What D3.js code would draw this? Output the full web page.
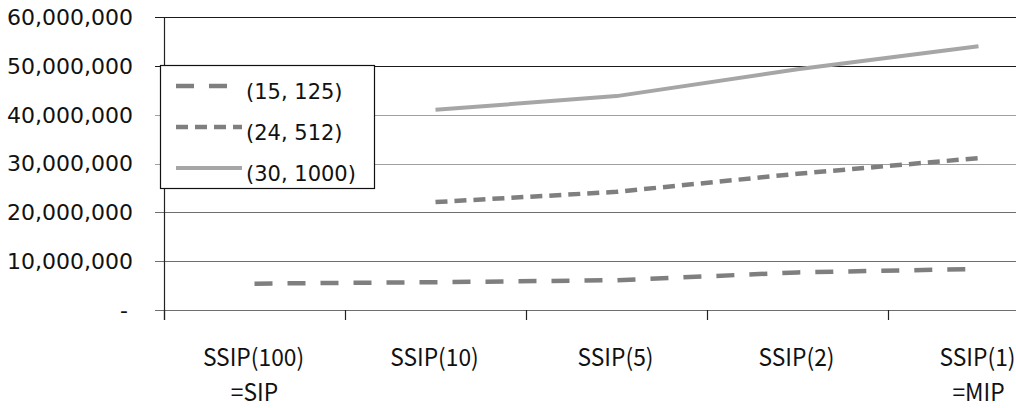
<!DOCTYPE html>
<html><head><meta charset="utf-8">
<script src="https://cdn.jsdelivr.net/npm/d3@7"></script>
<style>html,body{margin:0;padding:0;background:#fff;overflow:hidden}</style>
</head><body>
<svg id="c" width="1016" height="408"></svg>
<script>
const categories = ["SSIP(100)", "SSIP(10)", "SSIP(5)", "SSIP(2)", "SSIP(1)"];
const categorySubLabels = ["=SIP", "", "", "", "=MIP"];
const seriesNames = ["(15, 125)", "(24, 512)", "(30, 1000)"];
const s15_125 = [5400000, 5700000, 6100000, 7700000, 8400000];
const s24_512 = [null, 22100000, 24200000, 27900000, 31100000];
const s30_1000 = [null, 41000000, 43800000, 49300000, 54000000];
const yTicks = [0, 10000000, 20000000, 30000000, 40000000, 50000000, 60000000];
const yTickLabels = ["-", "10,000,000", "20,000,000", "30,000,000", "40,000,000", "50,000,000", "60,000,000"];

(function(){
const svg = d3.select("#c");
const left = 164, band = 181, plotTop = 17, plotBottom = 310;
const x = d3.scaleBand().domain(categories).range([left, left + band * categories.length]).padding(0);
const y = d3.scaleLinear().domain([0, 60000000]).range([plotBottom, plotTop]);
const cx = c => x(c) + x.bandwidth() / 2;

// gridlines
const gridColor = v => v >= 50000000 ? "#1a1a1a" : (v >= 30000000 ? "#a0a0a0" : "#6e6e6e");
svg.append("g").selectAll("line").data(yTicks).join("line")
  .attr("x1", left - 9).attr("x2", x.range()[1])
  .attr("y1", d => Math.round(y(d)) + 0.5).attr("y2", d => Math.round(y(d)) + 0.5)
  .attr("stroke", gridColor).attr("stroke-width", 1.2);

// y axis labels
svg.append("g").selectAll("text").data(yTicks).join("text")
  .attr("x", (d, i) => yTickLabels[i] === "-" ? 128 : 133)
  .attr("y", d => y(d))
  .attr("dy", "0.36em")
  .attr("text-anchor", "end")
  .attr("font-family", "DejaVu Sans").attr("font-size", 22).attr("fill", "#111")
  .text((d, i) => yTickLabels[i]);

// y axis line
svg.append("line").attr("x1", left + 0.5).attr("x2", left + 0.5)
  .attr("y1", plotTop).attr("y2", plotBottom + 10).attr("stroke", "#222").attr("stroke-width", 1.2);

// x axis ticks (category boundaries)
const xAxis = d3.axisBottom(x).tickSize(0).tickFormat("");
const xb = svg.append("g").attr("transform", `translate(0,${plotBottom})`).call(xAxis);
xb.select(".domain").remove();
const bounds = categories.map(c => x(c));
svg.append("g").selectAll("line").data(bounds).join("line")
  .attr("x1", d => Math.round(d) + 0.5).attr("x2", d => Math.round(d) + 0.5)
  .attr("y1", plotBottom).attr("y2", plotBottom + 10)
  .attr("stroke", "#222").attr("stroke-width", 1.2);

// x labels
const xl = svg.append("g").attr("font-family", "Noto Sans CJK KR").attr("font-size", 24).attr("fill", "#111").attr("text-anchor", "middle");
xl.selectAll("text.m").data(categories).join("text").attr("class", "m")
  .attr("transform", d => `translate(${cx(d) - 1},366) scale(0.95,1)`).text(d => d);
xl.selectAll("text.s").data(categories).join("text").attr("class", "s")
  .attr("transform", d => `translate(${cx(d)},401) scale(0.95,1)`).text((d, i) => categorySubLabels[i]);

// lines
const styles = [
  {color: "#7f7f7f", dash: "18,15", width: 4.5},
  {color: "#7f7f7f", dash: "12,7", width: 4.5},
  {color: "#a6a6a6", dash: null, width: 4}
];
const seriesData = [s15_125, s24_512, s30_1000];
const line = d3.line().defined(d => d.v != null).x(d => cx(d.c)).y(d => y(d.v));
seriesData.forEach((s, i) => {
  svg.append("path")
    .datum(categories.map((c, j) => ({c, v: s[j]})))
    .attr("d", line)
    .attr("fill", "none")
    .attr("stroke", styles[i].color)
    .attr("stroke-width", styles[i].width)
    .attr("stroke-dasharray", styles[i].dash)
    .attr("stroke-linejoin", "round");
});

// legend
const lg = svg.append("g");
lg.append("rect").attr("x", 160.5).attr("y", 65.5).attr("width", 214).attr("height", 123)
  .attr("fill", "#fff").attr("stroke", "#111").attr("stroke-width", 1.2);
const ly = [86, 127, 168];
seriesNames.forEach((n, i) => {
  lg.append("line").attr("x1", 176).attr("x2", 242).attr("y1", ly[i]).attr("y2", ly[i])
    .attr("stroke", styles[i].color).attr("stroke-width", styles[i].width)
    .attr("stroke-dasharray", styles[i].dash);
  lg.append("text").attr("x", 246).attr("y", ly[i] + 5).attr("dy", "0.36em")
    .attr("font-family", "DejaVu Sans").attr("font-size", 21).attr("fill", "#111").text(n);
});
})();
</script>
</body></html>
